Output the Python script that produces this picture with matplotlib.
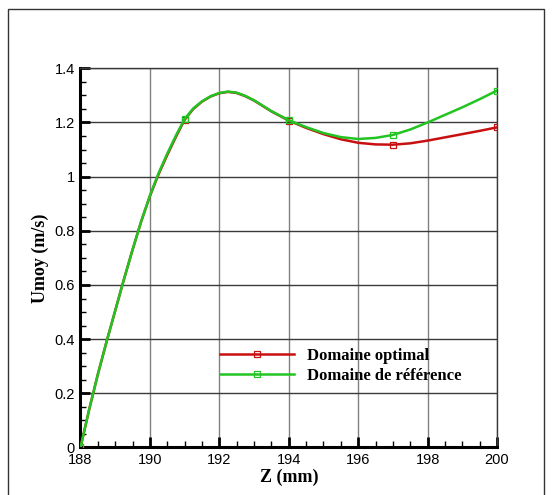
import numpy as np
import matplotlib
matplotlib.use("Agg")
import matplotlib.pyplot as plt
from matplotlib.patches import Rectangle
from matplotlib.ticker import MultipleLocator

# ---- data -----------------------------------------------------------
Z_MM = [188.0, 188.25, 188.5, 188.75, 189.0, 189.25, 189.5, 189.75,
        190.0, 190.25, 190.5, 190.75, 191.0, 191.25, 191.5, 191.75,
        192.0, 192.25, 192.5, 192.75, 193.0, 193.25, 193.5, 193.75,
        194.0, 194.5, 195.0, 195.5, 196.0, 196.5, 197.0, 197.5,
        198.0, 198.5, 199.0, 199.5, 200.0]

U_REF = [0.0, 0.14, 0.27, 0.39, 0.505, 0.62, 0.73, 0.835,
         0.93, 1.013, 1.085, 1.152, 1.213, 1.252, 1.278, 1.297,
         1.309, 1.314, 1.310, 1.298, 1.282, 1.262, 1.242, 1.225,
         1.208, 1.183, 1.161, 1.146, 1.139, 1.143, 1.154, 1.174,
         1.200, 1.228, 1.256, 1.286, 1.318]

U_OPT = [0.0, 0.14, 0.27, 0.39, 0.505, 0.62, 0.73, 0.835,
         0.928, 1.009, 1.080, 1.147, 1.210, 1.250, 1.277, 1.296,
         1.308, 1.313, 1.309, 1.297, 1.281, 1.261, 1.241, 1.224,
         1.207, 1.180, 1.157, 1.138, 1.125, 1.119, 1.118, 1.123,
         1.133, 1.145, 1.157, 1.169, 1.182]

MARK_Z = [188.0, 191.0, 194.0, 197.0, 200.0]
LABELS = ["Domaine optimal", "Domaine de référence"]

RED = "#c81010"
GREEN = "#22c422"

plt.rcParams["font.family"] = ["Liberation Sans", "DejaVu Sans"]

fig = plt.figure(figsize=(5.52, 4.95), dpi=100)
ax = fig.add_axes([0.1458, 0.096, 0.7546, 0.766])

marks = [Z_MM.index(m) for m in MARK_Z]
ax.plot(Z_MM, U_OPT, color=RED, lw=1.8, marker="s", markersize=4,
        markerfacecolor="none", markeredgewidth=0.9, markevery=marks,
        label=LABELS[0], zorder=3)
ax.plot(Z_MM, U_REF, color=GREEN, lw=1.8, marker="s", markersize=4,
        markerfacecolor="none", markeredgewidth=0.9, markevery=marks,
        label=LABELS[1], zorder=4)

ax.set_xlim(188, 200)
ax.set_ylim(0, 1.4)
ax.xaxis.set_major_locator(MultipleLocator(2))
ax.xaxis.set_minor_locator(MultipleLocator(0.5))
ax.yaxis.set_major_locator(MultipleLocator(0.2))
ax.yaxis.set_minor_locator(MultipleLocator(0.05))
ax.yaxis.set_major_formatter(plt.FuncFormatter(lambda v, p: f"{v:g}"))

ax.xaxis.grid(True, which="major", color="#808080", lw=1.0)
ax.yaxis.grid(True, which="major", color="#3a3a3a", lw=1.0)
ax.set_axisbelow(True)

for side in ("left", "bottom"):
    ax.spines[side].set_linewidth(2.2)
    ax.spines[side].set_color("black")
for side in ("top", "right"):
    ax.spines[side].set_linewidth(1.0)
    ax.spines[side].set_color("#3a3a3a")

ax.tick_params(which="both", direction="in", top=False, right=False,
               labelsize=10.5, colors="black")
ax.tick_params(which="major", length=7, width=2.0, pad=4)
ax.tick_params(which="minor", length=4, width=1.0)

ax.set_xlabel("Z (mm)", family=["Liberation Serif", "DejaVu Serif"],
              fontweight="bold", fontsize=13, labelpad=1)
ax.set_ylabel("Umoy (m/s)", family=["Liberation Serif", "DejaVu Serif"],
              fontweight="bold", fontsize=13, labelpad=4)

ax.legend(loc="upper left", bbox_to_anchor=(0.336, 0.262), frameon=False,
          prop={"family": ["Liberation Serif", "DejaVu Serif"],
                "weight": "bold", "size": 12},
          handlelength=4.4, handletextpad=0.8, labelspacing=0.25,
          borderpad=0, borderaxespad=0, numpoints=1, markerscale=1.0)

# outer frame of the original picture
fig.patches.append(Rectangle((8 / 552, -0.02), 536 / 552, 1.02 - 9 / 495,
                             transform=fig.transFigure, fill=False,
                             edgecolor="#333333", lw=1.0))

fig.savefig("out.png", dpi=100)
